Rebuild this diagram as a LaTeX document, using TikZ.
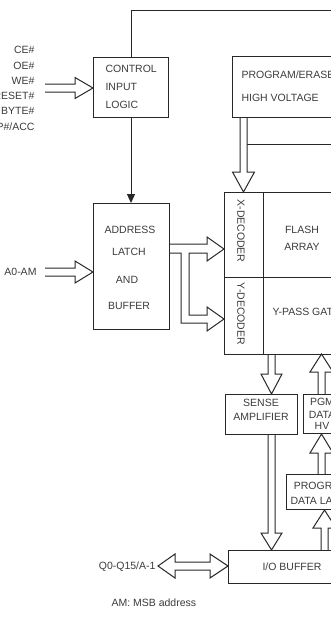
\documentclass[tikz,border=0pt]{standalone}
\usepackage{fontspec}
\setmainfont{Liberation Sans}
\usetikzlibrary{arrows.meta}
\definecolor{ink}{RGB}{40,40,40}
\definecolor{txt}{RGB}{60,60,60}
\begin{document}
\begin{tikzpicture}[x=1pt,y=-1pt,line width=1pt,draw=ink,
  lbl/.style={font=\fontsize{10.5}{12}\selectfont,text=txt,inner sep=0pt,text height=7.5pt,text depth=0pt},
  blk/.style={draw=ink,rectangle,inner sep=0pt,anchor=north west},
  fat/.style={draw=ink,line width=1pt,line join=miter}]
\useasboundingbox (0,0) rectangle (331,624);
\fill[white] (0,0) rectangle (331,624);
\clip (0,0) rectangle (331,624);

% blocks
\node[blk,minimum width=75pt,minimum height=60pt] (ctrl) at (93,57) {};
\node[blk,minimum width=76pt,minimum height=126pt] (addr) at (93,203) {};
\node[blk,minimum width=130pt,minimum height=61pt] (pe) at (232,56) {};
\node[blk,minimum width=39pt,minimum height=85pt] (xdec) at (224,192) {};
\node[blk,minimum width=39pt,minimum height=77pt] (ydec) at (224,277) {};
\node[blk,minimum width=100pt,minimum height=85pt] (flash) at (263,192) {};
\node[blk,minimum width=100pt,minimum height=77pt] (ypass) at (263,277) {};
\node[blk,minimum width=72pt,minimum height=40pt] (sense) at (225,394) {};
\node[blk,minimum width=40pt,minimum height=39pt] (pgm) at (303,394) {};
\node[blk,minimum width=72pt,minimum height=35pt] (latch) at (286,474) {};
\node[blk,minimum width=130pt,minimum height=33pt] (io) at (228,550) {};

% texts
\node[lbl,anchor=west] at (105,69) {CONTROL};
\node[lbl,anchor=west] at (105,87) {INPUT};
\node[lbl,anchor=west] at (105,105) {LOGIC};
\node[lbl,anchor=west] at (241,75) {PROGRAM/ERASE};
\node[lbl,anchor=west] at (241,98) {HIGH VOLTAGE};
\node[lbl] at (130,230) {ADDRESS};
\node[lbl] at (129,252) {LATCH};
\node[lbl] at (127,280) {AND};
\node[lbl] at (129,306) {BUFFER};
\node[lbl,rotate=-90] at (241,231) {X-DECODER};
\node[lbl,rotate=-90] at (241,314) {Y-DECODER};
\node[lbl] at (302,230) {FLASH};
\node[lbl] at (302,247) {ARRAY};
\node[lbl,anchor=west] at (272,312) {Y-PASS GATE};
\node[lbl] at (261,403) {SENSE};
\node[lbl] at (261,417) {AMPLIFIER};
\node[lbl] at (322,402) {PGM};
\node[lbl] at (322,415) {DATA};
\node[lbl] at (322,426) {HV};
\node[lbl] at (321,486) {PROGRAM};
\node[lbl] at (322,501) {DATA LATCH};
\node[lbl] at (292,567) {I/O BUFFER};
\node[lbl,anchor=east] at (156,566) {Q0-Q15/A-1};
\node[lbl,anchor=west] at (111,603) {AM: MSB address};
\node[lbl,anchor=east] at (37,272) {A0-AM};
\node[lbl,anchor=east] at (35,50) {CE\#};
\node[lbl,anchor=east] at (35,65.3) {OE\#};
\node[lbl,anchor=east] at (35,80.6) {WE\#};
\node[lbl,anchor=east] at (35,95.9) {RESET\#};
\node[lbl,anchor=east] at (35,111.2) {BYTE\#};
\node[lbl,anchor=east] at (35,126.5) {WP\#/ACC};

% thin connectors
\draw (ctrl.north) |- (345,10);
\draw[-{Triangle[length=9pt,width=8pt]}] (ctrl.south) -- (ctrl.south |- addr.north);

% fat arrows
\draw[fat] (45,84) -- (75,84) -- (75,77.5) -- (93,88) -- (75,98.5) -- (75,92) -- (45,92);
\draw[fat] (45,268) -- (75,268) -- (75,261) -- (93,272) -- (75,283) -- (75,276) -- (45,276);
\draw[fat] (240,117) -- (240,172) -- (232.5,172) -- (243.5,192) -- (254.5,172) -- (247,172) -- (247,117);
\draw[fat] (247,144) -- (345,144);
\draw[fat] (169,244) -- (207,244) -- (207,237) -- (224,249) -- (207,261) -- (207,253)
  -- (189,253) -- (189,315) -- (207,315) -- (207,307) -- (224,319) -- (207,331)
  -- (207,323) -- (181,323) -- (181,253) -- (169,253);
\draw[fat] (268,354) -- (268,374) -- (261,374) -- (271.5,394) -- (282,374) -- (275,374) -- (275,354);
\draw[fat] (268,434) -- (268,533) -- (261,533) -- (271.5,550) -- (282,533) -- (275,533) -- (275,434);
\draw[fat] (318,394) -- (318,372) -- (310,372) -- (321.5,354) -- (333,372) -- (325,372) -- (325,394);
\draw[fat] (318,474) -- (318,453) -- (310,453) -- (321.5,434) -- (333,453) -- (325,453) -- (325,474);
\draw[fat] (321,550) -- (321,528) -- (313,528) -- (324.5,510) -- (336,528) -- (328,528) -- (328,550);
\draw[fat] (158,566) -- (175,554) -- (175,562) -- (210,562) -- (210,554) -- (228,566)
  -- (210,578) -- (210,570) -- (175,570) -- (175,578) -- cycle;
\end{tikzpicture}
\end{document}
